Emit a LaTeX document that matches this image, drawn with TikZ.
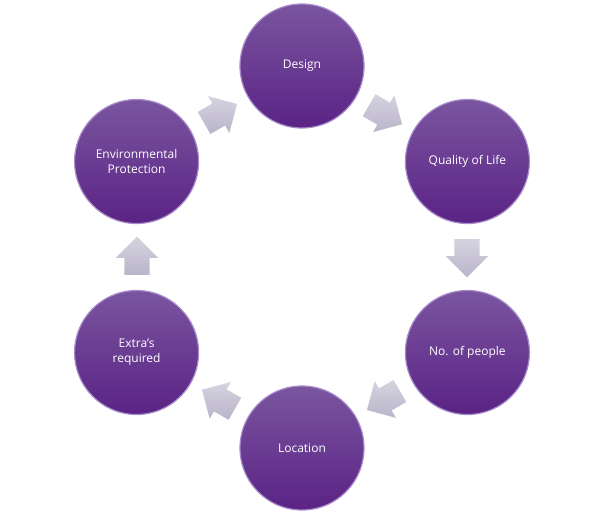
\documentclass[tikz,border=0pt]{standalone}
\usepackage{fontspec}
\setmainfont{Open Sans}
\usetikzlibrary{shapes.arrows}
\definecolor{discTop}{HTML}{7A559F}
\definecolor{discBottom}{HTML}{5A2385}
\definecolor{discRim}{HTML}{A88BCB}
\definecolor{arrowTop}{HTML}{D6D3E0}
\definecolor{arrowBottom}{HTML}{B9B4C9}
\tikzset{
  disc/.style={circle, minimum size=124pt, inner sep=0pt, align=center,
    top color=discTop, bottom color=discBottom, draw=discRim,
    line width=1.2pt, text=white, font=\fontsize{12}{15}\selectfont},
  flow/.style={single arrow, draw=none, inner sep=12.5pt, minimum height=36pt,
    single arrow head extend=8.5pt, single arrow head indent=0pt,
    anchor=tail, top color=arrowTop, bottom color=arrowBottom}
}
\begin{document}
\begin{tikzpicture}[x=1pt, y=1pt]
      \useasboundingbox (0,0) rectangle (609,515);
      \begin{scope}[shift={(302,258)}]
      \path
        (90:191) node[disc] (design){Design}
        (30:191) node[disc] (quality){Quality of Life}
        (-30:191) node[disc] (people){No. of people}
        (-90:191) node[disc] (location){Location}
        (-150:191) node[disc] (extras){Extra's\\required}
        (150:191) node[disc] (protection){Environmental\\Protection};
      % arrows sit halfway between discs, tail pulled back by half their length
      \begin{scope}[every node/.style={flow}]
        \node[rotate=-30] (a1) at ([shift={(150:18)}]60:165) {};
        \node[rotate=-90] (a2) at ([shift={(90:18)}]0:165) {};
        \node[rotate=-150] (a3) at ([shift={(30:18)}]-60:165) {};
        \node[rotate=150] (a4) at ([shift={(-30:18)}]-120:165) {};
        \node[rotate=90] (a5) at ([shift={(-90:18)}]180:165) {};
        \node[rotate=30] (a6) at ([shift={(-150:18)}]120:165) {};
      \end{scope}
      \end{scope}
    \end{tikzpicture}
\end{document}
